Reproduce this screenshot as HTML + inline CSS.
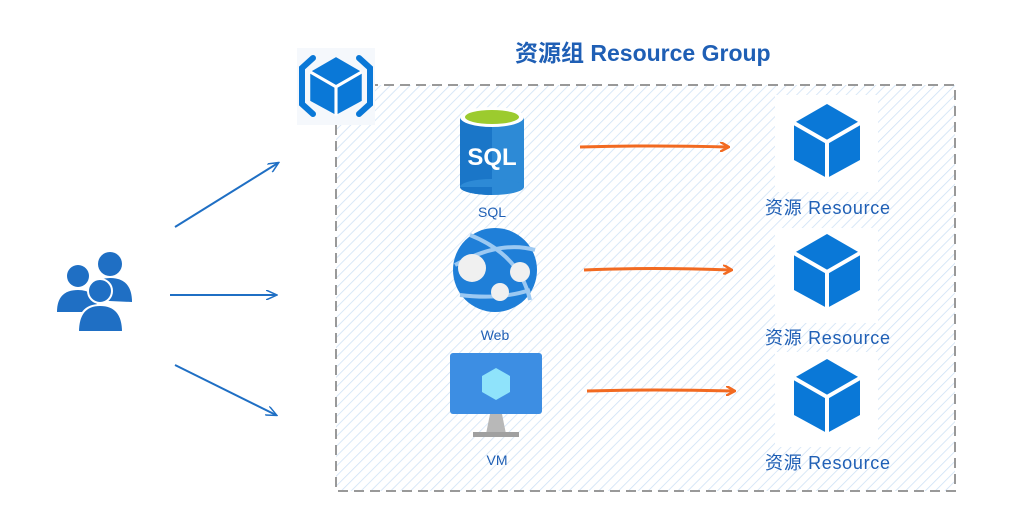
<!DOCTYPE html>
<html><head><meta charset="utf-8"><style>
html,body{margin:0;padding:0;background:#fff;}
text{font-family:"Liberation Sans","Noto Sans CJK SC",sans-serif;fill:#1f5fb5;}
</style></head><body>
<svg width="1032" height="523" viewBox="0 0 1032 523" xmlns="http://www.w3.org/2000/svg">
<defs>
<pattern id="h" width="7" height="7" patternUnits="userSpaceOnUse" patternTransform="rotate(45)">
<rect width="7" height="7" fill="#fff"/><line x1="0" y1="0" x2="0" y2="7" stroke="#cfe2f5" stroke-width="1.6"/>
</pattern>
<g id="cube">
<polygon points="0,-37 33,-18 33,19 0,37 -33,19 -33,-18" fill="#0a78d7"/>
<polyline points="-33,-18 0,1 33,-18" fill="none" stroke="#fff" stroke-width="4"/>
<line x1="0" y1="1" x2="0" y2="38" stroke="#fff" stroke-width="4"/>
</g>
<marker id="ob" markerWidth="10" markerHeight="10" refX="8" refY="5" orient="auto" markerUnits="userSpaceOnUse"><path d="M0,0 L9,5 L0,10" fill="none" stroke="#f26a21" stroke-width="2.5"/></marker>
<marker id="bb" markerWidth="12" markerHeight="10" refX="10" refY="5" orient="auto" markerUnits="userSpaceOnUse"><path d="M0,0 L11,5 L0,10" fill="none" stroke="#1f6fc4" stroke-width="1.5"/></marker>
</defs>
<rect x="336" y="85" width="619" height="406" fill="url(#h)" stroke="#999" stroke-width="2" stroke-dasharray="10,6"/>
<text x="515" y="61" font-size="23" font-weight="bold">资源组 Resource Group</text>
<!-- group icon -->
<rect x="297" y="48" width="78" height="77" fill="#f5f8fc"/>
<path d="M313,58 L302,68 L302,104 L313,114" fill="none" stroke="#0a78d7" stroke-width="6" stroke-linecap="round"/>
<path d="M359,58 L370,68 L370,104 L359,114" fill="none" stroke="#0a78d7" stroke-width="6" stroke-linecap="round"/>
<g transform="translate(336,86) scale(0.78)"><use href="#cube"/></g>
<!-- SQL -->
<rect x="460" y="117" width="64" height="70" fill="#1a76c8"/>
<rect x="492" y="117" width="32" height="70" fill="#2d8ad6"/>
<ellipse cx="492" cy="187" rx="32" ry="8" fill="#2d8ad6"/>
<path d="M460,187 A32,8 0 0 0 492,195 L492,187Z" fill="#1a76c8"/>
<ellipse cx="492" cy="117" rx="32" ry="10" fill="#fff"/>
<ellipse cx="492" cy="117" rx="27" ry="7" fill="#9ccb2e"/>
<text x="492" y="165" font-size="24" font-weight="bold" text-anchor="middle" style="fill:#fff">SQL</text>
<text x="492" y="217" font-size="14" text-anchor="middle">SQL</text>
<!-- Web -->
<circle cx="495" cy="270" r="42" fill="#1f7fd8"/>
<path d="M470,235 Q520,255 530,300 M455,265 Q500,240 535,250 M460,295 Q500,300 530,290" fill="none" stroke="#9cc9f2" stroke-width="4"/>
<circle cx="472" cy="268" r="14" fill="#f0f0f0"/>
<circle cx="520" cy="272" r="10" fill="#f0f0f0"/>
<circle cx="500" cy="292" r="9" fill="#f0f0f0"/>
<text x="495" y="340" font-size="14" text-anchor="middle">Web</text>
<!-- VM -->
<rect x="450" y="353" width="92" height="61" rx="3" fill="#3d8ee3"/>
<polygon points="496,368 510,376 510,392 496,400 482,392 482,376" fill="#8fe3fb"/>
<path d="M486,434 L490,414 L502,414 L506,434Z" fill="#b8b8b8"/>
<rect x="473" y="432" width="46" height="5" fill="#a0a0a0"/>
<text x="497" y="465" font-size="14" text-anchor="middle">VM</text>
<!-- resources -->
<rect x="775" y="95" width="103" height="97" fill="#fff"/>
<rect x="775" y="228" width="103" height="95" fill="#fff"/>
<rect x="775" y="352" width="103" height="95" fill="#fff"/>
<use href="#cube" x="827" y="141"/>
<use href="#cube" x="827" y="271"/>
<use href="#cube" x="827" y="396"/>
<text x="765" y="214" font-size="18" textLength="125">资源 Resource</text>
<text x="765" y="344" font-size="18" textLength="125">资源 Resource</text>
<text x="765" y="469" font-size="18" textLength="125">资源 Resource</text>
<!-- orange arrows -->
<path d="M580,147 Q650,145 728,147" fill="none" stroke="#f26a21" stroke-width="3" marker-end="url(#ob)"/>
<path d="M584,270 Q650,267 731,270" fill="none" stroke="#f26a21" stroke-width="3" marker-end="url(#ob)"/>
<path d="M587,391 Q650,389 734,391" fill="none" stroke="#f26a21" stroke-width="3" marker-end="url(#ob)"/>
<!-- users -->
<g fill="#1f6fc4">
<circle cx="78" cy="276" r="11"/><path d="M57,312 Q57,290 78,290 Q95,290 97,305 L97,312Z"/>
<circle cx="110" cy="264" r="12"/><path d="M88,300 Q90,278 110,278 Q132,278 132,302 L132,302 L88,300Z"/>
<circle cx="100" cy="291" r="12" stroke="#fff" stroke-width="2"/><path d="M78,332 Q78,305 100,305 Q123,305 123,332Z" stroke="#fff" stroke-width="2"/>
</g>
<path d="M175,227 L278,163" stroke="#1f6fc4" stroke-width="2" fill="none" marker-end="url(#bb)"/>
<path d="M170,295 L276,295" stroke="#1f6fc4" stroke-width="2" fill="none" marker-end="url(#bb)"/>
<path d="M175,365 L276,415" stroke="#1f6fc4" stroke-width="2" fill="none" marker-end="url(#bb)"/>
</svg>
</body></html>
